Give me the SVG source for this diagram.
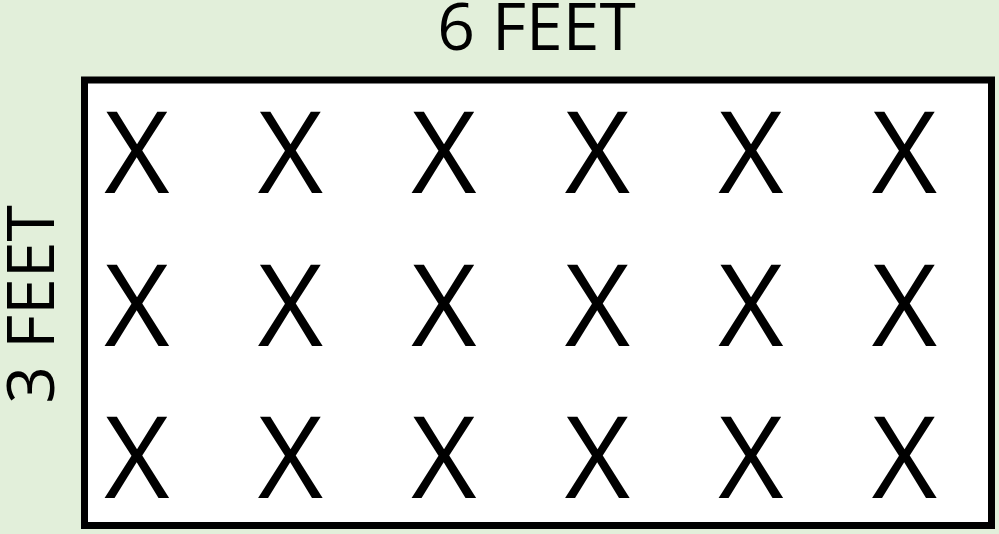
<svg xmlns="http://www.w3.org/2000/svg" width="999" height="534" viewBox="0 0 999 534">
<style>
.lbl{font-family:"Open Sans","Noto Sans","Liberation Sans",sans-serif;font-size:66px;fill:#000;text-anchor:middle}
.x{font-family:"Open Sans","Noto Sans","Liberation Sans",sans-serif;font-size:113px;fill:#000;text-anchor:middle}
</style>
<rect width="999" height="534" fill="#E2EFDA"/>
<g id="bed">
<rect x="84.5" y="80" width="907" height="445.5" fill="#FFFFFF" stroke="#000" stroke-width="7"/>
</g>
<g id="label-width"><text class="lbl" x="536.5" y="50">6 FEET</text></g>
<g id="label-height"><text class="lbl" transform="translate(54,304.5) rotate(-90)" x="0" y="0">3 FEET</text></g>
<g id="plants">
<text class="x" x="137" y="193">X</text><text class="x" x="290.5" y="193">X</text><text class="x" x="444" y="193">X</text><text class="x" x="597.5" y="193">X</text><text class="x" x="751" y="193">X</text><text class="x" x="904.5" y="193">X</text>
<text class="x" x="137" y="346">X</text><text class="x" x="290.5" y="346">X</text><text class="x" x="444" y="346">X</text><text class="x" x="597.5" y="346">X</text><text class="x" x="751" y="346">X</text><text class="x" x="904.5" y="346">X</text>
<text class="x" x="137" y="498">X</text><text class="x" x="290.5" y="498">X</text><text class="x" x="444" y="498">X</text><text class="x" x="597.5" y="498">X</text><text class="x" x="751" y="498">X</text><text class="x" x="904.5" y="498">X</text>
</g>
</svg>
